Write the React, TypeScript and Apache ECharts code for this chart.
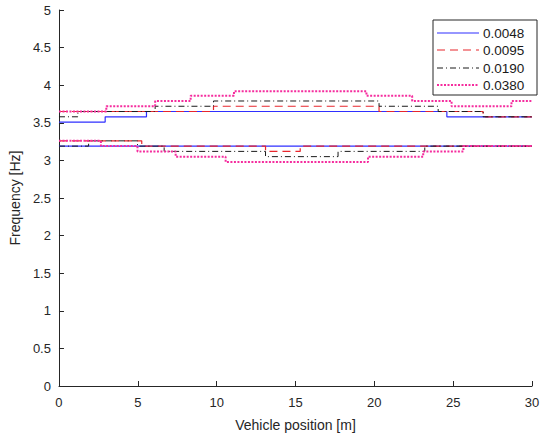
import React, { useEffect, useRef } from "react";
import * as echarts from "echarts";

const xTicks = [0, 5, 10, 15, 20, 25, 30];
const seriesNames = ["0.0048", "0.0095", "0.0190", "0.0380"];

// Step functions: breakpoints (x, m) and frequency level (Hz) held from each breakpoint
const blueUpperX = [0, 2.93, 5.55, 24.6];
const blueUpperF = [3.51, 3.58, 3.65, 3.58];
const blueLowerX = [0];
const blueLowerF = [3.19];

const redUpperX = [0, 9.8, 20.3, 26.9];
const redUpperF = [3.65, 3.72, 3.65, 3.58];
const redLowerX = [0, 5.25, 13.1, 15.3];
const redLowerF = [3.26, 3.19, 3.12, 3.19];

const blackUpperX = [0, 1.2, 6.1, 9.8, 20.3, 24.05, 26.9];
const blackUpperF = [3.58, 3.65, 3.72, 3.79, 3.72, 3.65, 3.58];
const blackLowerX = [0, 1.88, 4.98, 6.67, 13.1, 17.7, 23.2];
const blackLowerF = [3.19, 3.26, 3.19, 3.12, 3.05, 3.12, 3.19];

const magUpperX = [0, 3.0, 6.1, 8.35, 11.1, 19.5, 22.4, 24.9, 28.7];
const magUpperF = [3.65, 3.72, 3.79, 3.86, 3.92, 3.86, 3.79, 3.72, 3.79];
const magLowerX = [0, 2.66, 4.98, 7.4, 10.57, 19.6, 23.1, 25.65];
const magLowerF = [3.26, 3.19, 3.12, 3.05, 2.98, 3.05, 3.12, 3.19];

const X_END = 30;

function steps(xs: number[], fs: number[]) {
  const pts = xs.map((x, i) => [x, fs[i]]);
  pts.push([X_END, fs[fs.length - 1]]);
  return pts;
}

const FONT = "'Liberation Sans', Arial, Helvetica, sans-serif";

export default function App() {
  const ref = useRef<HTMLDivElement>(null);
  useEffect(() => {
    if (!ref.current) return;
    const chart = echarts.init(ref.current, undefined, { renderer: "svg" });
    const styles = [
      { color: "#2f2fff", width: 1.2, type: "solid" as any, dash: null as any },
      { color: "#e8262c", width: 1.2, type: [8, 5] as any, dash: [8, 5] },
      { color: "#1a1a1a", width: 1, type: [6, 3, 1, 3] as any, dash: [6, 3, 1, 3] },
      { color: "#f52d9e", width: 2, type: [2, 1.5] as any, dash: [2, 1.5] },
    ];
    const branches = [
      [steps(blueUpperX, blueUpperF), steps(blueLowerX, blueLowerF)],
      [steps(redUpperX, redUpperF), steps(redLowerX, redLowerF)],
      [steps(blackUpperX, blackUpperF), steps(blackLowerX, blackLowerF)],
      [steps(magUpperX, magUpperF), steps(magLowerX, magLowerF)],
    ];
    const series: any[] = [];
    branches.forEach((pair, i) => {
      pair.forEach((data) => {
        series.push({
          name: seriesNames[i],
          type: "line",
          step: "end",
          data,
          symbol: "none",
          showSymbol: false,
          color: styles[i].color,
          lineStyle: { color: styles[i].color, width: styles[i].width, type: styles[i].type, cap: "butt" },
          itemStyle: { color: styles[i].color },
          emphasis: { disabled: true },
        });
      });
    });

    // Legend box drawn as graphic
    const LX = 433, LY = 20, LW = 104, ROW = 17.5, FIRST = 12.5;
    const legendChildren: any[] = [
      {
        type: "rect",
        shape: { x: LX, y: LY, width: LW, height: FIRST + ROW * 3 + 10 },
        style: { fill: "#ffffff", stroke: "#262626", lineWidth: 1 },
      },
    ];
    seriesNames.forEach((n, i) => {
      const cy = Math.round(LY + FIRST + ROW * i);
      legendChildren.push({
        type: "line",
        shape: { x1: LX + 4, y1: cy, x2: LX + 46, y2: cy },
        style: {
          stroke: styles[i].color,
          lineWidth: styles[i].width,
          lineDash: styles[i].dash,
        },
      });
      legendChildren.push({
        type: "text",
        x: LX + 50,
        y: cy,
        style: {
          text: n,
          fill: "#1a1a1a",
          font: `13.5px ${FONT}`,
          verticalAlign: "middle",
          align: "left",
        },
      });
    });

    chart.setOption({
      animation: false,
      textStyle: { fontFamily: FONT },
      grid: { left: 58, right: 18, top: 10, bottom: 52, containLabel: false },
      graphic: [{ type: "group", z: 100, children: legendChildren }],
      xAxis: {
        type: "value",
        min: 0,
        max: 30,
        interval: 5,
        name: "Vehicle position [m]",
        nameLocation: "middle",
        nameGap: 32,
        nameTextStyle: { color: "#262626", fontSize: 14, fontFamily: FONT },
        axisLine: { show: true, onZero: false, lineStyle: { color: "#262626", width: 1 } },
        axisTick: { show: true, inside: true, length: 5, lineStyle: { color: "#262626" } },
        axisLabel: {
          color: "#262626",
          fontSize: 13,
          margin: 10,
          fontFamily: FONT,
          formatter: (v: number) => (xTicks.includes(v) ? String(v) : ""),
        },
        splitLine: { show: false },
      },
      yAxis: {
        type: "value",
        min: 0,
        max: 5,
        interval: 0.5,
        name: "Frequency [Hz]",
        nameLocation: "middle",
        nameGap: 34,
        nameRotate: 90,
        nameTextStyle: { color: "#262626", fontSize: 14, fontFamily: FONT },
        axisLine: { show: true, onZero: false, lineStyle: { color: "#262626", width: 1 } },
        axisTick: { show: true, inside: true, length: 5, lineStyle: { color: "#262626" } },
        axisLabel: { color: "#262626", fontSize: 13, margin: 8, fontFamily: FONT },
        splitLine: { show: false },
      },
      series,
    });
    return () => chart.dispose();
  }, []);
  return (
    <div
      ref={ref}
      style={{ position: "absolute", left: 0, top: 0, width: 550, height: 438, background: "#fff" }}
    />
  );
}
